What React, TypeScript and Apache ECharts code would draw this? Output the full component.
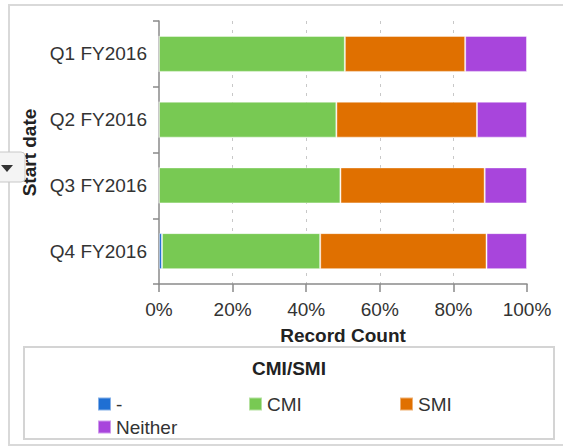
import React, { useEffect, useRef } from "react";
import * as echarts from "echarts";

const categories = ["Q1 FY2016", "Q2 FY2016", "Q3 FY2016", "Q4 FY2016"];
const seriesNames = ["-", "CMI", "SMI", "Neither"];
const dashValues = [0, 0, 0, 0.8];
const cmiValues = [50.5, 48.2, 49.3, 43.0];
const smiValues = [32.7, 38.2, 39.2, 45.2];
const neitherValues = [16.8, 13.6, 11.5, 11.0];
const colors = ["#1f6fd3", "#78c953", "#e07000", "#a845dc"];
const xTicks = [0, 20, 40, 60, 80, 100];

const FONT = "'Liberation Sans', Arial, Helvetica, sans-serif";

export default function App() {
  const ref = useRef<HTMLDivElement>(null);
  useEffect(() => {
    if (!ref.current) return;
    const chart = echarts.init(ref.current, null, { renderer: "svg" });
    const values = [dashValues, cmiValues, smiValues, neitherValues];
    chart.setOption({
      animation: false,
      textStyle: { fontFamily: FONT },
      grid: { left: 159, right: 36, top: 21, bottom: 164, containLabel: false },
      xAxis: {
        type: "value",
        min: xTicks[0],
        max: xTicks[xTicks.length - 1],
        interval: 20,
        name: "Record Count",
        nameLocation: "middle",
        nameGap: 42,
        nameTextStyle: { fontSize: 19, fontWeight: "bold", color: "#222", fontFamily: FONT },
        axisLine: { show: true, lineStyle: { color: "#8a8a8a", width: 1.5 } },
        axisTick: { show: true, length: 8, lineStyle: { color: "#8a8a8a", width: 1.5 } },
        axisLabel: { formatter: "{value}%", fontSize: 19, color: "#333", margin: 16, fontFamily: FONT },
        splitLine: {
          show: true,
          showMinLine: false,
          showMaxLine: false,
          lineStyle: { color: "#c8c8c8", type: [3, 6], width: 1 },
        },
      },
      yAxis: {
        type: "category",
        data: categories,
        inverse: true,
        name: "Start date",
        nameLocation: "middle",
        nameGap: 119,
        nameTextStyle: { fontSize: 19, fontWeight: "bold", color: "#222", fontFamily: FONT },
        axisLine: { show: true, lineStyle: { color: "#8a8a8a", width: 1.5 } },
        axisTick: { show: true, length: 6, lineStyle: { color: "#8a8a8a", width: 1.5 } },
        axisLabel: { fontSize: 19, color: "#333", margin: 12, padding: [5, 0, 0, 0], fontFamily: FONT },
        splitLine: { show: false },
      },
      legend: {
        data: seriesNames,
        left: 92,
        top: 389,
        width: 460,
        orient: "horizontal",
        itemWidth: 13,
        itemHeight: 13,
        itemGap: 3,
        icon: "rect",
        textStyle: { fontSize: 19, color: "#333", width: 129, lineHeight: 20, fontFamily: FONT },
      },
      series: seriesNames.map((name, i) => ({
        name,
        type: "bar",
        stack: "total",
        barWidth: 36,
        data: values[i],
        itemStyle: { color: colors[i], borderColor: "rgba(255,255,255,0.45)", borderWidth: 1 },
        emphasis: { disabled: true },
      })),
      graphic: [
        {
          type: "rect",
          z: -10,
          shape: { x: 9, y: 5, width: 600, height: 440 },
          style: { fill: "none", stroke: "#d9d9d9", lineWidth: 2 },
        },
        {
          type: "rect",
          z: -10,
          shape: { x: 24, y: 347, width: 530, height: 92 },
          style: { fill: "none", stroke: "#d4d4d4", lineWidth: 2 },
        },
        {
          type: "text",
          x: 289,
          y: 368,
          style: {
            text: "CMI/SMI",
            fontSize: 19,
            fontWeight: "bold",
            fill: "#222",
            fontFamily: FONT,
            align: "center",
            verticalAlign: "middle",
          },
        },
        {
          type: "rect",
          z: 10,
          shape: { x: -6, y: 152, width: 31, height: 30, r: 4 },
          style: { fill: "#f4f4f4", stroke: "#c8c8c8", lineWidth: 1 },
        },
        {
          type: "polygon",
          z: 11,
          shape: { points: [[1, 165], [13, 165], [7, 172]] },
          style: { fill: "#333" },
        },
      ],
    });
    return () => chart.dispose();
  }, []);
  return (
    <div
      ref={ref}
      style={{ position: "fixed", left: 0, top: 0, width: 563, height: 448, background: "#fff" }}
    />
  );
}
